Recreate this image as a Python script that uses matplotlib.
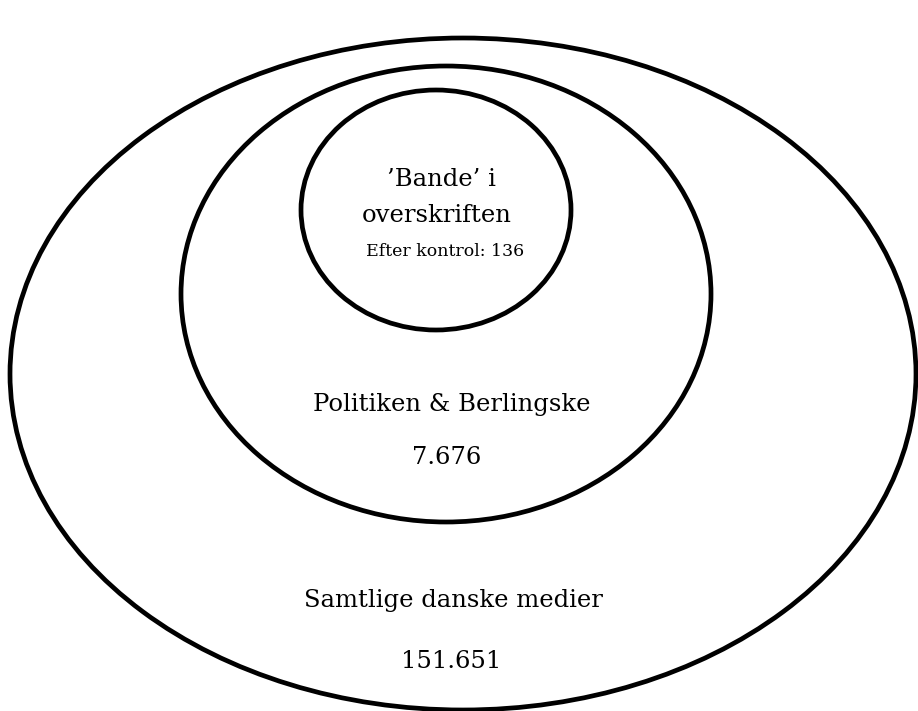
import matplotlib.pyplot as plt
from matplotlib.patches import Ellipse

# data
levels = ["Samtlige danske medier", "Politiken & Berlingske", "\u2019Bande\u2019 i\noverskriften"]
counts = ["151.651", "7.676", "Efter kontrol: 136"]

# layout (pixel coords, y down)
ell_cx = [463, 446, 436]
ell_cy = [374, 294, 210]
ell_w = [906, 530, 270]
ell_h = [672, 456, 240]

plt.rcParams['font.family'] = ['DejaVu Serif']

fig = plt.figure(figsize=(9.18, 7.11), dpi=100)
ax = fig.add_axes([0, 0, 1, 1])
ax.set_xlim(0, 918)
ax.set_ylim(711, 0)
ax.axis('off')

for cx, cy, w, h in zip(ell_cx, ell_cy, ell_w, ell_h):
    ax.add_patch(Ellipse((cx, cy), w, h, fill=False, edgecolor='black', linewidth=3.4))

# outer
ax.text(453, 601, levels[0], ha='center', va='center', fontsize=17.5)
ax.text(451, 661, counts[0], ha='center', va='center', fontsize=17.5)
# middle
ax.text(452, 404, levels[1], ha='center', va='center', fontsize=17.5)
ax.text(447, 457, counts[1], ha='center', va='center', fontsize=17.5)
# inner
top_line, bottom_line = levels[2].split("\n")
ax.text(441, 180, top_line, ha='center', va='center', fontsize=17.5)
ax.text(437, 215, bottom_line, ha='center', va='center', fontsize=17.5)
ax.text(445, 251, counts[2], ha='center', va='center', fontsize=12.5)

fig.savefig('out.png', dpi=100)
